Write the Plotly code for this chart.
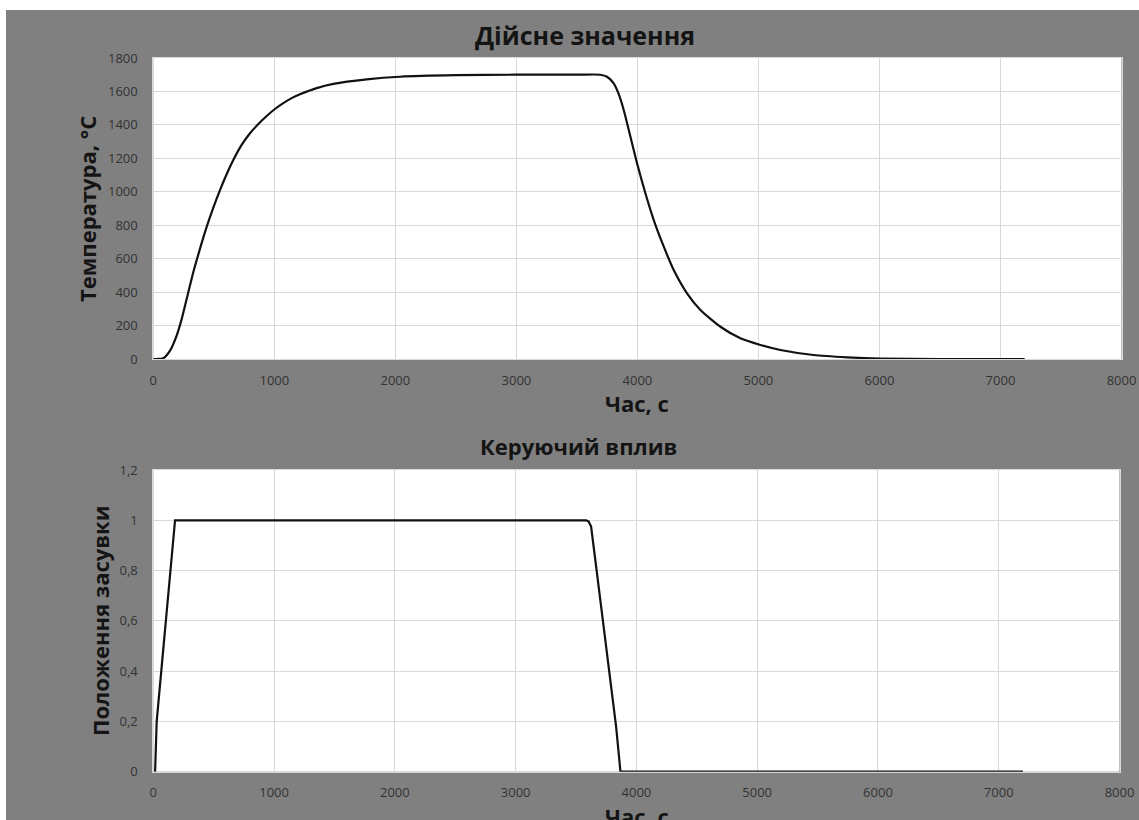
import plotly.graph_objects as go

# ---------- data ----------
time_temp = [0, 28, 83, 138, 193, 235, 276, 331, 386, 441, 496, 551, 606, 661,
             730, 799, 868, 937, 1005, 1074, 1143, 1212, 1350, 1488, 1763, 2039,
             2500, 3000, 3500, 3694, 3749, 3804, 3845, 3887, 3942, 3997, 4066,
             4135, 4218, 4300, 4410, 4521, 4686, 4851, 5017, 5182, 5455, 5733,
             6008, 6500, 7200]
temperature = [0, 0, 5, 50, 140, 240, 360, 520, 660, 790, 905, 1010, 1105, 1190,
               1280, 1350, 1405, 1453, 1495, 1530, 1560, 1583, 1620, 1645, 1672, 1688,
               1697, 1700, 1700, 1700, 1688, 1648, 1585, 1489, 1330, 1170, 991,
               831, 672, 532, 393, 293, 193, 124, 84, 54, 24, 10,
               2, 0, 0]

time_ctrl = [15, 28, 180, 3584, 3605, 3625, 3667, 3722, 3777, 3832, 3868, 7200]
valve = [0, 0.2, 1, 1, 0.995, 0.975, 0.815, 0.603, 0.391, 0.179, 0, 0]

x_ticks = [0, 1000, 2000, 3000, 4000, 5000, 6000, 7000, 8000]
y1_ticks = [0, 200, 400, 600, 800, 1000, 1200, 1400, 1600, 1800]
y2_ticks = [0, 0.2, 0.4, 0.6, 0.8, 1, 1.2]
y2_labels = ["0", "0,2", "0,4", "0,6", "0,8", "1", "1,2"]

title_top = "Дійсне значення"
title_bottom = "Керуючий вплив"
x_title = "Час, с"
y1_title = "Температура, °C"
y2_title = "Положення засувки"

# ---------- figure ----------
W, H = 1139, 820
BG = "#808080"
GRID = "#d9d9d9"
TICKC = "#333333"
TXT = "#141414"
FONT = "Open Sans"

fig = go.Figure()
fig.add_trace(go.Scatter(x=time_temp, y=temperature, xaxis="x", yaxis="y",
                         mode="lines", showlegend=False,
                         line=dict(color="#111111", width=2.2, shape="spline", smoothing=0.6)))
fig.add_trace(go.Scatter(x=time_ctrl, y=valve, xaxis="x2", yaxis="y2",
                         mode="lines", showlegend=False,
                         line=dict(color="#111111", width=2.2)))

def px_x(v):
    return v / W

def px_y(v):
    return 1 - v / H

axis_common = dict(showgrid=True, gridcolor=GRID, gridwidth=1, zeroline=False,
                   showline=True, linecolor=GRID, linewidth=1, mirror=True,
                   automargin=False, ticks="",
                   tickfont=dict(family=FONT, size=13, color=TICKC))

fig.update_layout(
    template="none",
    width=W, height=H,
    margin=dict(l=0, r=0, t=0, b=0, pad=0, autoexpand=False),
    paper_bgcolor=BG, plot_bgcolor="white",
    showlegend=False,
    xaxis=dict(domain=[px_x(153.3), px_x(1121.5)], range=[0, 8000], anchor="y",
               tickvals=x_ticks, ticklabelstandoff=9, **axis_common),
    yaxis=dict(domain=[px_y(359), px_y(58)], range=[0, 1800], anchor="x",
               tickvals=y1_ticks, ticklabelstandoff=12, **axis_common),
    xaxis2=dict(domain=[px_x(153.3), px_x(1119.5)], range=[0, 8000], anchor="y2",
                tickvals=x_ticks, ticklabelstandoff=9, **axis_common),
    yaxis2=dict(domain=[px_y(771.7), px_y(470)], range=[0, 1.2], anchor="x2",
                tickvals=y2_ticks, ticktext=y2_labels, ticklabelstandoff=12, **axis_common),
    shapes=[
        dict(type="rect", xref="paper", yref="paper", x0=0, x1=1, y0=px_y(10), y1=1,
             fillcolor="white", line=dict(width=0), layer="below"),
        dict(type="rect", xref="paper", yref="paper", x0=0, x1=px_x(6), y0=0, y1=1,
             fillcolor="white", line=dict(width=0), layer="below"),
    ],
    annotations=[
        dict(text=title_top, x=px_x(585), y=px_y(35), xref="paper", yref="paper",
             showarrow=False, xanchor="center", yanchor="middle",
             font=dict(family=FONT, size=25, color=TXT, weight=700)),
        dict(text=title_bottom, x=px_x(578), y=px_y(446), xref="paper", yref="paper",
             showarrow=False, xanchor="center", yanchor="middle",
             font=dict(family=FONT, size=22, color=TXT, weight=700)),
        dict(text=x_title, x=px_x(636.5), y=px_y(403), xref="paper", yref="paper",
             showarrow=False, xanchor="center", yanchor="middle",
             font=dict(family=FONT, size=22, color=TXT, weight=700)),
        dict(text=x_title, x=px_x(636.5), y=px_y(816), xref="paper", yref="paper",
             showarrow=False, xanchor="center", yanchor="middle",
             font=dict(family=FONT, size=22, color=TXT, weight=700)),
        dict(text=y1_title, x=px_x(87), y=px_y(209), xref="paper", yref="paper",
             showarrow=False, xanchor="center", yanchor="middle", textangle=-90,
             font=dict(family=FONT, size=22, color=TXT, weight=700)),
        dict(text=y2_title, x=px_x(100), y=px_y(621), xref="paper", yref="paper",
             showarrow=False, xanchor="center", yanchor="middle", textangle=-90,
             font=dict(family=FONT, size=22, color=TXT, weight=700)),
    ],
)

fig.write_html("out.html", config={"displayModeBar": False},
               post_script="document.body.style.margin='0';document.body.style.overflow='hidden';")
